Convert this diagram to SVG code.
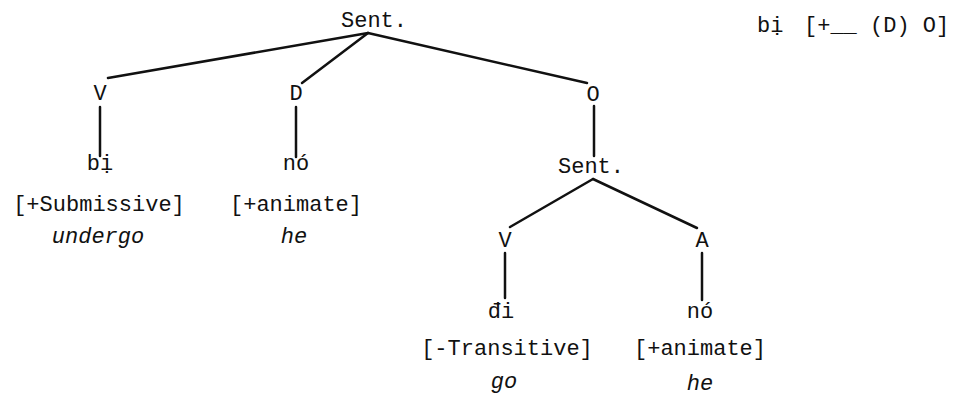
<svg xmlns="http://www.w3.org/2000/svg" width="960" height="398" viewBox="0 0 960 398">
<style>
text{font-family:"Liberation Mono","DejaVu Sans Mono",monospace;font-size:22px;fill:#111;text-anchor:middle}
.it{font-style:italic}
.l{text-anchor:start}
#edges line{stroke:#111;stroke-width:2.5;stroke-linecap:round}
</style>
<rect width="960" height="398" fill="#fff"/>
<g id="edges">
<line x1="368" y1="33" x2="108" y2="78"/>
<line x1="368" y1="33" x2="302" y2="83"/>
<line x1="368" y1="33" x2="587" y2="83"/>
<line x1="100" y1="107" x2="100" y2="156"/>
<line x1="296" y1="107" x2="296" y2="157"/>
<line x1="594" y1="106" x2="594" y2="156"/>
<line x1="593" y1="179" x2="510" y2="227"/>
<line x1="593" y1="179" x2="697" y2="228"/>
<line x1="505" y1="253" x2="505" y2="298"/>
<line x1="702" y1="253" x2="702" y2="300"/>
</g>
<g id="sent1"><text x="374" y="27">Sent.</text></g>
<g id="frame"><text class="l" x="757" y="32">bị</text><text class="l" x="804" y="32">[+__ (D) O]</text></g>
<g id="v1"><text x="100" y="100">V</text></g>
<g id="d1"><text x="296" y="100">D</text></g>
<g id="o1"><text x="593" y="101">O</text></g>
<g id="bi"><text x="100" y="170">bị</text><text x="99" y="211">[+Submissive]</text><text class="it" x="98" y="243">undergo</text></g>
<g id="no1"><text x="296" y="170">nó</text><text x="296" y="211">[+animate]</text><text class="it" x="294" y="243">he</text></g>
<g id="sent2"><text x="591" y="173">Sent.</text></g>
<g id="v2"><text x="505" y="247">V</text></g>
<g id="a2"><text x="702" y="247">A</text></g>
<g id="di"><text x="501" y="318">đi</text><text x="507" y="355">[-Transitive]</text><text class="it" x="504" y="388">go</text></g>
<g id="no2"><text x="700" y="318">nó</text><text x="700" y="355">[+animate]</text><text class="it" x="700" y="390">he</text></g>
</svg>
